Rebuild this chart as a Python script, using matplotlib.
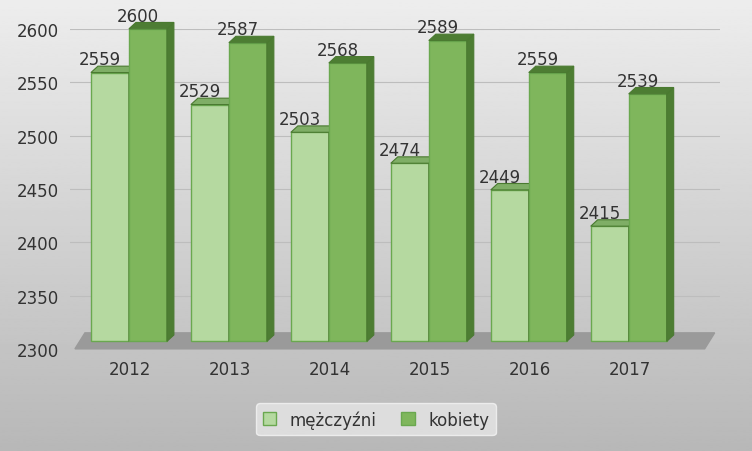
import numpy as np
import matplotlib.pyplot as plt
from matplotlib.patches import Polygon

years = ["2012", "2013", "2014", "2015", "2016", "2017"]
men = [2559, 2529, 2503, 2474, 2449, 2415]
women = [2600, 2587, 2568, 2589, 2559, 2539]

fig = plt.figure(figsize=(7.52, 4.52), dpi=100)
bg = fig.add_axes([0, 0, 1, 1])
grad = np.linspace(0.93, 0.72, 256).reshape(-1, 1)
bg.imshow(grad, cmap="gray", vmin=0, vmax=1, aspect="auto", extent=[0, 1, 0, 1])
bg.axis("off")

ax = fig.add_axes([0.093, 0.226, 0.864, 0.708])
ax.set_facecolor("none")
ax.set_ylim(2300, 2600)
ax.set_xlim(-0.6, 5.9)
ax.set_yticks(range(2300, 2601, 50))
ax.yaxis.grid(True, color="#bdbdbd", lw=0.8)
ax.set_axisbelow(True)
for s in ax.spines.values():
    s.set_visible(False)
ax.tick_params(length=0, labelsize=12, colors="#333333", pad=8)
ax.set_xticks(range(len(years)))
ax.set_xticklabels(years)

# floor
ax.add_patch(Polygon([(-0.55, 2300), (5.75, 2300), (5.85, 2315), (-0.45, 2315)],
                     closed=True, color="#9a9a9a", zorder=1, clip_on=False))

x = np.arange(len(years))
w = 0.38
dx, dy = 0.07, 6
for vals, off, face, side, lab in [(men, -0.2, "#b5d9a0", "#7fae66", "mężczyźni"),
                                    (women, 0.18, "#7fb65c", "#4d7d33", "kobiety")]:
    ax.bar(x + off, np.array(vals) - 2307, bottom=2307, width=w, color=face,
           edgecolor="#6aa84f", lw=1, zorder=3, label=lab, clip_on=False)
    for xi, v in zip(x + off, vals):
        r = xi + w / 2
        ax.add_patch(Polygon([(r, 2307), (r + dx, 2307 + dy), (r + dx, v + dy), (r, v)],
                             closed=True, facecolor=side, edgecolor="#4a7a30", lw=0.8,
                             zorder=3, clip_on=False))
        ax.add_patch(Polygon([(r - w, v), (r, v), (r + dx, v + dy), (r - w + dx, v + dy)],
                             closed=True, facecolor=side, edgecolor="#4a7a30", lw=0.8,
                             zorder=3, clip_on=False))
        ax.text(xi - 0.1, v + 4, str(v), ha="center", va="bottom", fontsize=12,
                color="#333333", zorder=4, clip_on=False)

leg = fig.legend(loc="center", bbox_to_anchor=(0.5, 0.07), ncol=2, fontsize=12,
                 frameon=True, handlelength=0.8, handleheight=0.8, columnspacing=1.5)
leg.get_frame().set_facecolor("#e6e6e6")
leg.get_frame().set_edgecolor("#f5f5f5")
for t in leg.get_texts():
    t.set_color("#333333")

fig.savefig("out.png", dpi=100)
